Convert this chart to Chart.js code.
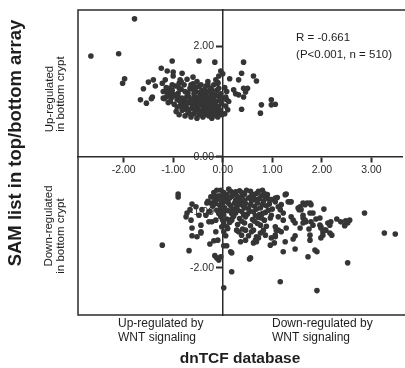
<!DOCTYPE html>
<html>
<head>
<meta charset="utf-8">
<script src="https://cdn.jsdelivr.net/npm/chart.js@4/dist/chart.umd.min.js"></script>
<style>
  html, body { margin: 0; padding: 0; background: #fff; overflow: hidden; }
  #wrap { width: 405px; height: 368px; }
</style>
</head>
<body>
<div id="wrap"><canvas id="scatter" width="405" height="368"></canvas></div>
<script>
// genes up-regulated in bottom crypt: [dnTCF, SAM]
var upperGenes = [
  [-1.78,2.49],[-2.66,1.82],[-2.10,1.86],[-1.98,1.41],[-2.02,1.33],[-1.02,1.73],[-0.48,1.73],[-0.16,1.71],
  [0.42,1.71],[-1.24,1.60],[-1.12,1.55],[-1.00,1.53],[-0.82,1.51],[-1.00,1.46],[-0.04,1.55],[0.00,1.50],
  [-0.08,1.46],[-0.60,1.44],[-0.86,1.39],[-0.88,1.33],[-1.40,1.39],[-1.50,1.35],[-1.36,1.28],[-1.60,1.23],
  [-1.22,1.33],[-1.16,1.39],[0.14,1.41],[0.32,1.39],[0.38,1.51],[0.62,1.46],[0.68,1.37],[-0.14,1.39],
  [-0.10,1.33],[0.22,1.21],[0.26,1.14],[0.32,1.12],[0.42,1.24],[0.46,1.17],[0.50,1.24],[0.42,1.08],
  [0.38,0.86],[0.06,1.08],[0.08,1.03],[0.10,0.85],[-1.66,1.03],[-1.54,0.97],[-1.44,1.05],[-1.42,1.08],
  [0.98,1.03],[1.06,0.95],[0.98,0.94],[0.78,0.94],[0.76,0.79],
  [-1.08,1.24],[-1.02,1.30],[-1.04,1.17],[-1.14,1.08],[-1.20,1.06],
  [-1.20,1.18],[-1.14,1.25],[-1.08,1.12],[-1.02,1.20],[-0.96,1.28],[-0.90,1.15],[-0.84,1.22],[-0.78,1.30],
  [-0.72,1.10],[-0.66,1.24],[-0.60,1.32],[-0.54,1.18],[-0.48,1.27],[-0.42,1.12],[-0.36,1.22],[-0.30,1.30],
  [-0.24,1.16],[-0.18,1.08],[-0.12,1.20],[-0.06,1.02],[-1.18,1.05],[-1.10,0.98],[-1.04,1.06],[-0.98,0.95],
  [-0.92,1.03],[-0.86,0.92],[-0.80,1.00],[-0.74,0.90],[-0.68,0.98],[-0.62,0.88],[-0.56,0.96],[-0.50,0.86],
  [-0.44,0.94],[-0.38,0.84],[-0.32,0.92],[-0.26,0.82],[-0.20,0.90],[-0.14,0.80],[-0.08,0.88],[-0.02,0.96],
  [-0.94,0.82],[-0.88,0.76],[-0.82,0.84],[-0.76,0.74],[-0.70,0.80],[-0.64,0.72],[-0.58,0.78],[-0.52,0.70],
  [-0.46,0.76],[-0.40,0.72],[-0.34,0.78],[-0.28,0.74],[-0.22,0.70],[-0.16,0.76],[-0.10,0.72],
  [-0.90,1.08],[-0.76,1.05],[-0.70,1.16],[-0.58,1.06],[-0.52,1.02],[-0.46,1.08],[-0.40,1.02],[-0.34,1.06],
  [-0.28,1.00],[-0.22,1.04],[-0.16,0.96],[-0.10,1.10],[-0.04,1.14],[-0.64,1.03],[-0.86,1.00],[-1.00,1.10],
  [-0.56,0.90],[-0.44,0.82],[-0.32,0.86],[-0.20,0.84],[-0.08,0.80],[-0.70,0.86],[-0.80,0.92],[-0.50,0.94],
  [-0.38,0.98],[-0.26,0.94],[-0.14,0.88],[-0.62,0.95],[-0.74,0.96],[-0.46,1.16],[-0.34,1.14],[-0.24,1.24],
  [-0.84,1.36],[-0.72,1.40],[-0.60,1.22],[-0.52,1.36],[-0.44,1.30],[-0.30,1.36],[-0.18,1.30],[-0.10,1.34],
  [0.04,1.25],[0.08,1.18],[0.02,1.05],[0.06,0.92],[0.12,1.00],[0.04,0.78],
  [-0.96,1.12],[-0.92,0.90],[-0.88,1.24],[-0.82,1.06],[-0.78,0.86],[-0.76,1.18],[-0.72,0.98],[-0.68,1.08],
  [-0.66,0.78],[-0.64,1.30],[-0.60,1.00],[-0.58,1.14],[-0.56,0.84],[-0.54,1.26],[-0.50,1.08],[-0.48,0.78],
  [-0.46,0.98],[-0.42,1.20],[-0.40,0.90],[-0.38,1.08],[-0.36,0.76],[-0.34,1.28],[-0.32,0.98],[-0.30,1.18],
  [-0.28,0.86],[-0.26,1.08],[-0.24,0.76],[-0.22,1.20],[-0.20,0.98],[-0.18,0.80],[-0.16,1.12],[-0.14,1.00],
  [-0.12,0.74],[-0.10,0.92],[-0.08,1.24],[-0.06,0.84],[-0.04,1.06],[-0.02,0.76],[-1.06,1.00],[-1.12,1.16]
];

// genes down-regulated in bottom crypt: [dnTCF, SAM]
var lowerGenes = [
  [-0.90,-0.67],[-0.90,-0.72],[-0.16,-0.70],[-0.32,-0.83],[-0.24,-0.83],[-0.20,-0.86],[-0.62,-0.85],[-0.54,-0.90],
  [-0.66,-0.95],[-0.72,-1.01],[-0.74,-1.08],[-0.64,-1.14],[-0.62,-1.28],[-0.44,-1.23],[-0.48,-1.05],[-0.42,-0.95],
  [-0.34,-1.05],[-0.28,-0.99],[-0.28,-1.17],[-0.22,-1.17],[-0.14,-1.14],[-0.44,-1.35],[-0.14,-1.35],[-0.62,-1.42],
  [0.26,-0.63],[1.28,-0.67],[1.06,-0.74],[1.32,-0.81],[1.38,-0.81],[1.56,-0.90],[1.54,-0.95],[1.66,-0.86],
  [1.76,-0.83],[1.16,-0.95],[1.22,-1.01],[1.12,-1.08],[1.22,-1.14],[1.38,-1.08],[1.42,-1.14],[1.46,-1.19],
  [1.56,-1.28],[1.62,-1.10],[1.68,-1.17],[1.76,-1.01],[1.78,-1.17],[1.06,-1.26],[1.12,-1.32],[0.76,-1.23],
  [0.62,-1.32],[0.82,-1.32],[0.18,-1.14],[0.08,-1.26],[0.28,-1.32],[0.02,-1.35],
  [2.04,-0.94],[2.86,-1.01],[3.26,-1.37],[3.48,-1.39],[1.62,-0.83],[1.70,-0.83],[1.78,-0.86],[1.58,-0.95],
  [1.62,-1.05],[1.66,-1.14],[1.62,-1.19],[1.82,-1.01],[1.88,-1.12],[1.96,-1.10],[1.82,-1.23],[2.12,-1.19],
  [2.18,-1.17],[2.16,-1.23],[2.30,-1.12],[2.38,-1.17],[2.48,-1.15],[2.52,-1.19],[2.56,-1.14],[2.46,-1.23],
  [1.96,-1.23],[1.98,-1.28],[2.08,-1.32],[2.02,-1.35],
  [-1.22,-1.59],[-0.68,-1.69],[-0.52,-1.44],[-0.44,-1.37],[-0.26,-1.57],[-0.18,-1.51],[-0.10,-1.50],[-0.16,-1.78],
  [-0.12,-1.82],[-0.08,-1.86],[-0.04,-1.80],[0.02,-1.60],[0.02,-2.36],[0.18,-2.07],[0.18,-1.73],[0.06,-1.42],
  [0.36,-1.53],[0.38,-1.41],[0.32,-1.35],[0.46,-1.32],[0.58,-1.35],[0.56,-1.82],[0.62,-1.55],[0.66,-1.50],
  [0.68,-1.44],[0.72,-1.46],[0.76,-1.37],[0.86,-1.41],[0.98,-1.46],[1.06,-1.44],
  [2.52,-1.91],[1.90,-2.41],[1.16,-2.25],[1.72,-1.80],[1.86,-1.68],[1.90,-1.71],[1.46,-1.66],[1.22,-1.71],
  [1.26,-1.53],[1.42,-1.48],[1.46,-1.42],[1.06,-1.41],[1.08,-1.32],[1.18,-1.35],[1.28,-1.28],[0.96,-1.59],
  [1.74,-1.30],[1.76,-1.41],[1.76,-1.50],[1.98,-1.26],[2.02,-1.41],[1.98,-1.46],[2.06,-1.32],[2.16,-1.37],
  [2.20,-1.41],[2.46,-1.24],[1.26,-0.68],[1.36,-0.81],[1.52,-0.92],[0.24,-0.65],[0.68,-1.53],[1.04,-1.55],
  [0.54,-1.84],[0.16,-1.71],[0.08,-1.60],
  [-0.12,-0.60],[0.02,-0.64],[0.12,-0.58],[0.22,-0.66],[0.34,-0.61],[0.44,-0.67],[0.56,-0.62],[0.68,-0.66],
  [0.80,-0.60],[0.90,-0.68],[-0.24,-0.72],[-0.08,-0.70],[0.06,-0.74],[0.18,-0.71],[0.30,-0.76],[0.40,-0.70],
  [0.52,-0.74],[0.62,-0.71],[0.74,-0.75],[0.86,-0.72],[0.98,-0.77],[1.10,-0.73],[-0.30,-0.80],[-0.16,-0.78],
  [-0.02,-0.82],[0.10,-0.79],[0.24,-0.83],[0.36,-0.80],[0.46,-0.84],[0.58,-0.79],[0.70,-0.83],[0.82,-0.80],
  [0.94,-0.85],[1.06,-0.81],[1.18,-0.86],[-0.20,-0.89],[-0.06,-0.87],[0.04,-0.92],[0.16,-0.88],[0.28,-0.91],
  [0.40,-0.87],[0.52,-0.93],[0.64,-0.89],[0.76,-0.92],[0.88,-0.88],[1.00,-0.94],[1.12,-0.90],[-0.26,-0.98],
  [-0.12,-0.96],[0.00,-1.00],[0.12,-0.97],[0.26,-1.01],[0.38,-0.98],[0.50,-1.03],[0.62,-0.99],[0.74,-1.04],
  [0.86,-1.00],[0.98,-1.05],[-0.04,-1.08],[0.08,-1.12],[0.22,-1.07],[0.34,-1.11],[0.46,-1.08],[0.60,-1.13],
  [0.72,-1.09],[0.84,-1.14],[0.96,-1.10],[0.02,-1.20],[0.14,-1.18],[0.30,-1.22],[0.44,-1.19],[0.56,-1.24],
  [0.70,-1.20],[0.88,-1.25],[0.10,-1.29],[0.40,-1.30],[0.52,-1.42],[0.46,-1.50],
  [-0.02,-0.70],[0.00,-0.76],[-0.04,-0.94],[0.02,-1.04],[0.00,-1.14],[-0.02,-1.26],
  [-0.18,-0.64],[-0.04,-0.60],[0.08,-0.68],[0.16,-0.62],[0.28,-0.70],[0.38,-0.64],[0.48,-0.60],[0.60,-0.68],
  [0.72,-0.62],[0.84,-0.66],[-0.10,-0.76],[0.04,-0.80],[0.14,-0.74],[0.26,-0.78],[0.34,-0.73],[0.44,-0.78],
  [0.56,-0.72],[0.66,-0.77],[0.78,-0.70],[0.92,-0.76],[-0.14,-0.84],[0.00,-0.88],[0.12,-0.84],[0.20,-0.94],
  [0.32,-0.86],[0.44,-0.92],[0.56,-0.86],[0.68,-0.94],[0.80,-0.86],[0.92,-0.96],[-0.08,-1.02],[0.06,-0.96],
  [0.18,-1.02],[0.30,-0.96],[0.42,-1.04],[0.54,-0.98],[0.66,-1.06],[0.80,-1.02],[0.18,-1.12],[0.38,-1.16],
  [0.64,-1.16],[0.78,-1.10]
];

var xTicks = [-2, -1, 0, 1, 2, 3];
var yTicks = [-2, -1, 0, 1, 2];
var xRange = [-2.92, 3.62];
var yRange = [-2.85, 2.65];

var FONT = 'Arial, "Liberation Sans", sans-serif';
var INK = '#2b2b2b';

function toPoints(list) {
  return list.map(function(p) { return {x: p[0], y: p[1]}; });
}

// frame around the plot and the free text (axis titles, quadrant labels, stats)
var framePlugin = {
  id: 'framePlugin',
  beforeDatasetsDraw: function(chart) {
    var a = chart.chartArea, ctx = chart.ctx;
    ctx.save();
    ctx.strokeStyle = INK;
    ctx.lineWidth = 1.5;
    ctx.beginPath();
    ctx.moveTo(chart.width, a.top);
    ctx.lineTo(a.left, a.top);
    ctx.lineTo(a.left, a.bottom);
    ctx.lineTo(chart.width, a.bottom);
    ctx.stroke();
    ctx.restore();
  },
  afterDraw: function(chart) {
    var ctx = chart.ctx;
    var xs = chart.scales.x, ys = chart.scales.y;
    ctx.save();
    ctx.fillStyle = '#1e1e1e';

    // correlation
    ctx.font = '11.5px ' + FONT;
    ctx.textAlign = 'left';
    ctx.textBaseline = 'middle';
    ctx.fillText('R = -0.661', xs.getPixelForValue(1.48), ys.getPixelForValue(2.14));
    ctx.fillText('(P<0.001, n = 510)', xs.getPixelForValue(1.48), ys.getPixelForValue(1.84));

    // bottom quadrant labels
    ctx.font = '12px ' + FONT;
    ctx.fillText('Up-regulated by', 118, 324);
    ctx.fillText('WNT signaling', 118, 338);
    ctx.fillText('Down-regulated by', 272, 324);
    ctx.fillText('WNT signaling', 272, 338);

    // x title
    ctx.font = 'bold 15.5px ' + FONT;
    ctx.textAlign = 'center';
    ctx.fillText('dnTCF database', 240, 359);

    // rotated labels
    function vtext(txt, x, y, font) {
      ctx.save();
      ctx.translate(x, y);
      ctx.rotate(-Math.PI / 2);
      ctx.font = font;
      ctx.textAlign = 'center';
      ctx.textBaseline = 'middle';
      ctx.fillText(txt, 0, 0);
      ctx.restore();
    }
    vtext('Up-regulated', 50, 99, '11.5px ' + FONT);
    vtext('in bottom crypt', 61, 94, '11.5px ' + FONT);
    vtext('Down-regulated', 49, 226, '11.5px ' + FONT);
    vtext('in bottom crypt', 61, 236, '11.5px ' + FONT);
    vtext('SAM list in top/bottom array', 16, 143, 'bold 18.5px ' + FONT);
    ctx.restore();
  }
};

var ctx = document.getElementById('scatter').getContext('2d');
new Chart(ctx, {
  type: 'scatter',
  data: {
    datasets: [{
      label: 'genes',
      data: toPoints(upperGenes.concat(lowerGenes)),
      backgroundColor: '#353535',
      borderWidth: 0,
      pointRadius: 2.8,
      pointHoverRadius: 2.8
    }]
  },
  options: {
    responsive: false,
    animation: false,
    events: [],
    layout: { padding: { left: 78, top: 10, right: 0, bottom: 53 } },
    plugins: {
      legend: { display: false },
      tooltip: { enabled: false }
    },
    scales: {
      x: {
        type: 'linear',
        min: xRange[0],
        max: xRange[1],
        position: { y: 0 },
        afterBuildTicks: function(axis) {
          axis.ticks = xTicks.map(function(v) { return {value: v}; });
        },
        grid: { drawOnChartArea: false, tickLength: 5, tickWidth: 2, color: INK },
        border: { color: INK, width: 1.5 },
        ticks: {
          color: '#2a2a2a',
          padding: 2,
          maxRotation: 0,
          font: { family: FONT, size: 10.5 },
          callback: function(v) { return Number(v).toFixed(2); }
        }
      },
      y: {
        type: 'linear',
        min: yRange[0],
        max: yRange[1],
        position: { x: 0 },
        afterBuildTicks: function(axis) {
          axis.ticks = yTicks.map(function(v) { return {value: v}; });
        },
        grid: { drawOnChartArea: false, tickLength: 6, tickWidth: 2, color: INK },
        border: { color: INK, width: 1.5 },
        ticks: {
          color: '#2a2a2a',
          font: { family: FONT, size: 10.5 },
          // labels of an axis placed at x = 0 sit right on the line; pad them off it
          callback: function(v) { return Number(v).toFixed(2) + '   '; }
        }
      }
    }
  },
  plugins: [framePlugin]
});
</script>
</body>
</html>
